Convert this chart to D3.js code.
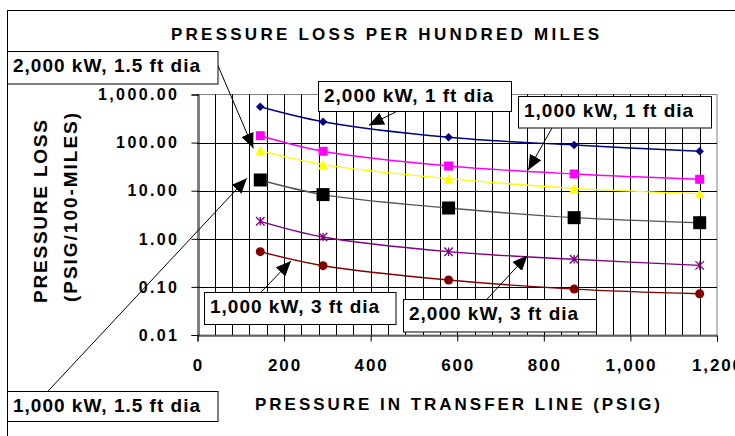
<!DOCTYPE html>
<html><head><meta charset="utf-8">
<script src="https://cdn.jsdelivr.net/npm/d3@7"></script>
<style>
body{margin:0;background:#fff}
svg{display:block}
text{font-family:"Liberation Sans",Arial,sans-serif;font-weight:bold;fill:#000}
</style>
</head><body>
<svg id="c" width="735" height="436"></svg>
<script>
// ---------- data ----------
const pressures = [145, 290, 580, 870, 1160];
const loss2000kW1ft  = [557, 272, 129, 89, 66];
const loss1000kW1ft  = [139, 66, 32.6, 22.3, 17.3];
const loss2000kW15ft = [68, 34.8, 17.8, 11.2, 8.7];
const loss1000kW15ft = [16.7, 8.3, 4.37, 2.75, 2.16];
const loss2000kW3ft  = [2.31, 1.09, 0.54, 0.375, 0.28];
const loss1000kW3ft  = [0.54, 0.276, 0.139, 0.090, 0.072];
const seriesLabels = ["2,000 kW, 1 ft dia","1,000 kW, 1 ft dia","2,000 kW, 1.5 ft dia","1,000 kW, 1.5 ft dia","2,000 kW, 3 ft dia","1,000 kW, 3 ft dia"];
const xTicks = [0, 200, 400, 600, 800, 1000, 1200];
const xTickLabels = ["0","200","400","600","800","1,000","1,200"];
const yTicks = [1000, 100, 10, 1, 0.1, 0.01];
const yTickLabels = ["1,000.00","100.00","10.00","1.00","0.10","0.01"];
const titleText = "PRESSURE LOSS PER HUNDRED MILES";
const xTitle = "PRESSURE IN TRANSFER LINE (PSIG)";
const yTitle = ["PRESSURE LOSS", "(PSIG/100-MILES)"];
// annotation arrow tips in data units
const tipX = [396, 764, 129, 114, 762, 216];
const tipY = [229, 26.9, 76, 18.1, 0.45, 0.345];

// ---------- layout / styles ----------
const svg = d3.select("#c");
const x = d3.scaleLinear().domain([0, 1200]).range([197.5, 717]);
const y = d3.scaleLog().domain([0.01, 1000]).range([335, 94.5]);
const styles = [
  {color:"#000080", line:"#000080", shape:"diamond", size:8.5},
  {color:"#FF00FF", line:"#FF00FF", shape:"square", size:9},
  {color:"#FFFF00", line:"#FFFF00", shape:"triangle", size:9.5},
  {color:"#000000", line:"#555555", shape:"square", size:13},
  {color:"#800080", line:"#800080", shape:"star", size:8.5},
  {color:"#800000", line:"#800000", shape:"circle", size:9}
];
const allSeries = [loss2000kW1ft, loss1000kW1ft, loss2000kW15ft, loss1000kW15ft, loss2000kW3ft, loss1000kW3ft];
// boxes: x, y, w, h, arrow start
const boxes = [
  {x:318.5, y:81.5, w:193, h:30, sx:396.7, sy:111.5},
  {x:518.5, y:96.5, w:193, h:31.5, sx:552, sy:128},
  {x:7.5,   y:51.5, w:210.5, h:32.5, sx:218, sy:65.7},
  {x:7.5,   y:391.5, w:210.5, h:30, sx:47.7, sy:391.5},
  {x:403.5, y:299.5, w:193, h:32.5, sx:486.7, sy:299.5},
  {x:204.5, y:292.5, w:191.5, h:32, sx:260.7, sy:292.5}
];

function fitSpacing(sel, target){
  const str = sel.text();
  sel.attr("letter-spacing", 0);
  const w = sel.node().getComputedTextLength();
  const s = (target - w) / (str.length - 1);
  sel.attr("letter-spacing", s);
  return s;
}

// outer frame
svg.append("rect").attr("x",7.5).attr("y",10.5).attr("width",900).attr("height",600)
  .attr("fill","#fff").attr("stroke","#000").attr("stroke-width",1);

// title
const t = svg.append("text").attr("x",171).attr("y",40).attr("font-size",17).text(titleText);
fitSpacing(t, 428);

// plot area
const g = svg.append("g");
g.append("rect").attr("x",x(0)).attr("y",y(1000)).attr("width",x(1200)-x(0)).attr("height",y(0.01)-y(1000))
  .attr("fill","#fff").attr("stroke","#808080");
// vertical gridlines every 40
const vGrid = d3.range(40, 1200, 40);
g.selectAll(".vg").data(vGrid).join("line")
  .attr("x1",d=>Math.round(x(d))+0.5).attr("x2",d=>Math.round(x(d))+0.5)
  .attr("y1",y(1000)).attr("y2",y(0.01)).attr("stroke","#000").attr("stroke-width",1);
g.selectAll(".hg").data(yTicks.filter(d=>d<1000 && d>0.01)).join("line")
  .attr("x1",x(0)).attr("x2",x(1200)).attr("y1",d=>Math.round(y(d))+0.5).attr("y2",d=>Math.round(y(d))+0.5)
  .attr("stroke","#000");

// axes
const xAxis = d3.axisBottom(x).tickValues(xTicks).tickSize(6).tickFormat("");
const ax = svg.append("g").attr("transform",`translate(0,${Math.round(y(0.01))+0.5})`).call(xAxis);
ax.select(".domain").attr("stroke","#000");
ax.selectAll("line").attr("stroke","#000");
const yAxis = d3.axisLeft(y).tickValues(yTicks).tickSize(7).tickFormat("");
const ay = svg.append("g").attr("transform",`translate(${Math.round(x(0))+0.5},0)`).call(yAxis);
ay.select(".domain").attr("stroke","#000");
ay.selectAll("line").attr("stroke","#000");

// tick labels
let ys = null;
yTicks.forEach((v,i)=>{
  const tx = svg.append("text").attr("x",177).attr("y",y(v)).attr("dy","0.36em")
    .attr("text-anchor","end").attr("font-size",16).text(yTickLabels[i]);
  if (ys===null) ys = fitSpacing(tx, 79);
  tx.attr("letter-spacing", ys).attr("x", 177 + ys);
});
let xs = null;
xTicks.forEach((v,i)=>{
  const tx = svg.append("text").attr("x",x(v)).attr("y",371)
    .attr("text-anchor","middle").attr("font-size",17).text(xTickLabels[i]);
  if (xs===null) { const tmp = svg.append("text").attr("font-size",17).text("1,000"); xs = fitSpacing(tmp,50); tmp.remove(); }
  tx.attr("letter-spacing", xs).attr("x", x(v) + xs/2);
});

// axis titles
const xt = svg.append("text").attr("x",255).attr("y",410).attr("font-size",17).text(xTitle);
fitSpacing(xt, 405);
const yt1 = svg.append("text").attr("transform","translate(46.5,303) rotate(-90)").attr("font-size",19).text(yTitle[0]);
fitSpacing(yt1, 183);
const yt2 = svg.append("text").attr("transform","translate(76.5,302) rotate(-90)").attr("font-size",19).text(yTitle[1]);
fitSpacing(yt2, 189);

// series
const line = d3.line().x(d=>x(d[0])).y(d=>y(d[1])).curve(d3.curveCatmullRom.alpha(0.5));
allSeries.forEach((vals,i)=>{
  const st = styles[i];
  const pts = pressures.map((p,j)=>[p, vals[j]]);
  g.append("path").attr("d", line(pts)).attr("fill","none").attr("stroke",st.line).attr("stroke-width",1.4);
  const m = g.append("g");
  pts.forEach(p=>{
    const cx = x(p[0]), cy = y(p[1]), s = st.size;
    if (st.shape==="diamond") {
      m.append("path").attr("d",`M${cx},${cy-s/2}L${cx+s/2},${cy}L${cx},${cy+s/2}L${cx-s/2},${cy}Z`).attr("fill",st.color);
    } else if (st.shape==="square") {
      m.append("rect").attr("x",cx-s/2).attr("y",cy-s/2).attr("width",s).attr("height",s).attr("fill",st.color);
    } else if (st.shape==="triangle") {
      m.append("path").attr("d",`M${cx},${cy-s/2}L${cx+s/2},${cy+s/2}L${cx-s/2},${cy+s/2}Z`).attr("fill",st.color);
    } else if (st.shape==="circle") {
      m.append("circle").attr("cx",cx).attr("cy",cy).attr("r",s/2).attr("fill",st.color);
    } else if (st.shape==="star") {
      const h = s/2;
      m.append("path").attr("d",`M${cx-h},${cy-h}L${cx+h},${cy+h}M${cx-h},${cy+h}L${cx+h},${cy-h}M${cx},${cy-h}L${cx},${cy+h}`)
        .attr("stroke",st.color).attr("stroke-width",1.3);
    }
  });
});

// arrowhead marker
svg.append("defs").append("marker").attr("id","ah").attr("viewBox","0 0 15 13")
  .attr("refX",15).attr("refY",6.5).attr("markerWidth",15).attr("markerHeight",13)
  .attr("markerUnits","userSpaceOnUse").attr("orient","auto")
  .append("path").attr("d","M0,0L15,6.5L0,13Z").attr("fill","#000");

// annotations
let bs = null;
boxes.forEach((b,i)=>{
  svg.append("line").attr("x1",b.sx).attr("y1",b.sy).attr("x2",x(tipX[i])).attr("y2",y(tipY[i]))
    .attr("stroke","#000").attr("stroke-width",1).attr("marker-end","url(#ah)");
});
boxes.forEach((b,i)=>{
  svg.append("rect").attr("x",b.x).attr("y",b.y).attr("width",b.w).attr("height",b.h)
    .attr("fill","#fff").attr("stroke","#000").attr("stroke-width",1);
  const tx = svg.append("text").attr("x",b.x+5.5).attr("y",b.y+20).attr("font-size",19).text(seriesLabels[i]);
  if (bs===null) { const tmp = svg.append("text").attr("font-size",19).text("2,000 kW, 1.5 ft dia"); bs = fitSpacing(tmp,187); tmp.remove(); }
  tx.attr("letter-spacing", bs);
});
</script>
</body></html>
